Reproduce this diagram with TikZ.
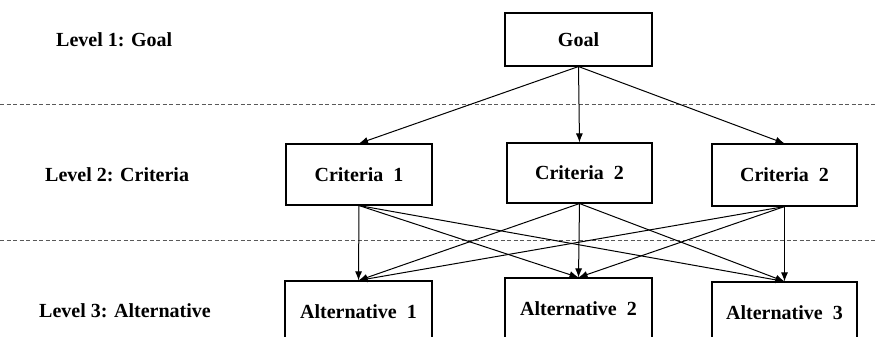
\documentclass[tikz,border=0pt]{standalone}
\usepackage{fontspec}
\setmainfont{Liberation Serif}
\usetikzlibrary{arrows.meta}

\begin{document}
\begin{tikzpicture}[x=1pt,y=1pt,
  box/.style={draw,line width=1.1pt,minimum width=146pt,minimum height=61pt,inner sep=0pt,
    font=\fontsize{20}{24}\selectfont\bfseries},
  level/.style={anchor=west,inner sep=0pt,font=\fontsize{20}{24}\selectfont\bfseries},
  link/.style={line width=1pt,-{Latex[length=9pt,width=7pt]}},
  sep/.style={dashed,dash pattern=on 4pt off 2.5pt,line width=0.9pt,color=black!65}]

% Page size.
\useasboundingbox (0,0) rectangle (876,-337);

% Separators between the levels.
\coordinate (sepAw) at (0,-104);
\coordinate (sepAe) at (876,-104);
\coordinate (sepBw) at (0,-240);
\coordinate (sepBe) at (876,-240);
\draw[sep] (sepAw) -- (sepAe);
\draw[sep] (sepBw) -- (sepBe);

% Level names.
\node[level] (lvlone)   at (56,-40)  {Level 1: Goal};
\node[level] (lvltwo)   at (45,-175) {Level 2: Criteria};
\node[level] (lvlthree) at (39,-311) {Level 3: Alternative};

% Goal.
\node[box,minimum height=53pt,minimum width=147pt] (goal) at (578.5,-39.5) {Goal};

% Criteria.
\node[box] (crit1) at (359,-174.5)   {Criteria\ \ 1};
\node[box,minimum width=145pt,minimum height=60pt] (crit2) at (579.5,-173) {Criteria\ \ 2};
\node[box,minimum width=145pt,minimum height=62pt] (crit3) at (784.5,-175) {Criteria\ \ 2};

% Alternatives.
\node[box,minimum width=147pt] (alt1) at (358.5,-311.5) {Alternative\ \ 1};
\node[box,minimum width=147pt] (alt2) at (578.5,-308.5) {Alternative\ \ 2};
\node[box,minimum width=145pt] (alt3) at (784.5,-312.5) {Alternative\ \ 3};

% Goal to criteria.
\foreach \c in {crit1,crit2,crit3}
  \draw[link] (goal.south) -- (\c.north);

% Criteria to alternatives.
\foreach \c in {crit1,crit2,crit3}
  \foreach \a in {alt1,alt2,alt3}
    \draw[link] (\c.south) -- (\a.north);

\end{tikzpicture}
\end{document}
